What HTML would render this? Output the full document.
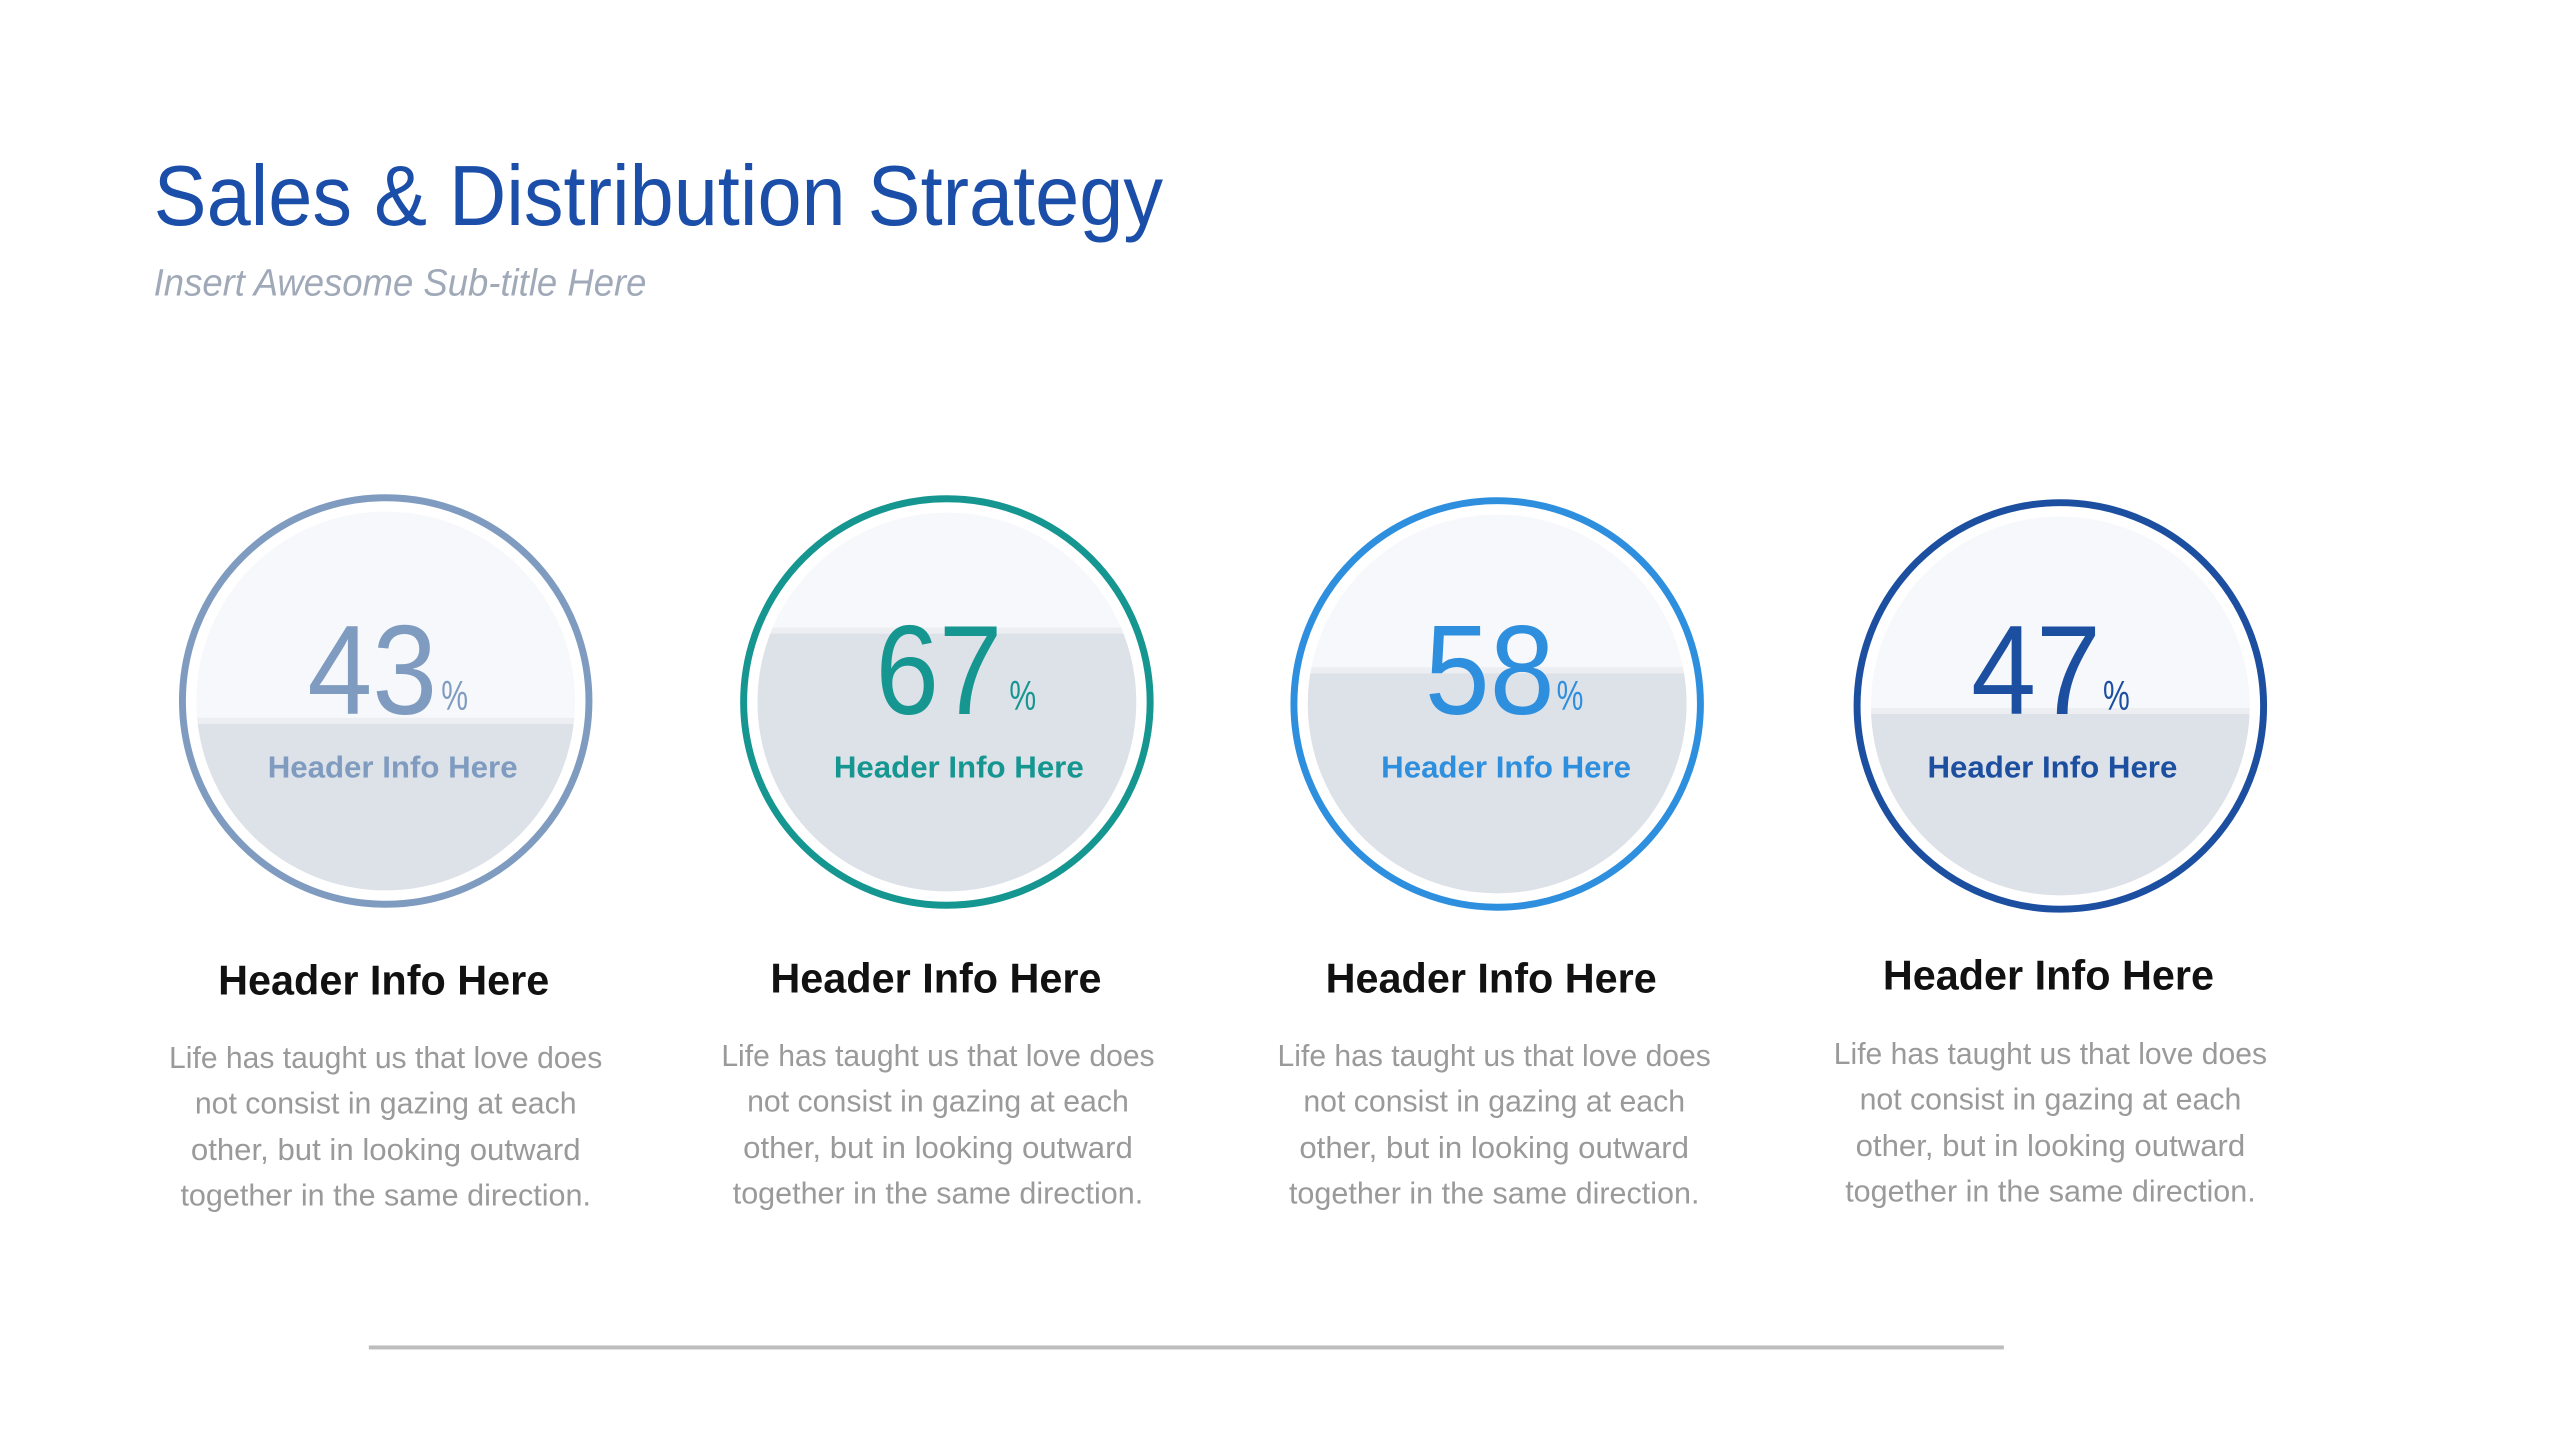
<!DOCTYPE html>
<html><head><meta charset="utf-8"><style>html,body{margin:0;padding:0;background:#fff}svg{display:block}</style></head>
<body>
<svg width="2560" height="1440" viewBox="0 0 2560 1440" xmlns="http://www.w3.org/2000/svg" font-family="'Liberation Sans', sans-serif">
<defs>
<clipPath id="c1"><circle cx="389" cy="707" r="191"/></clipPath>
<clipPath id="c2"><circle cx="955" cy="708" r="191"/></clipPath>
<clipPath id="c3"><circle cx="1510" cy="710" r="191"/></clipPath>
<clipPath id="c4"><circle cx="2078" cy="712" r="191"/></clipPath>
</defs>
<g transform="scale(0.9915)">
<text x="155" y="227" font-size="86" fill="#1a4ea8" textLength="1018" lengthAdjust="spacingAndGlyphs">Sales &amp; Distribution Strategy</text>
<text x="155" y="298" font-size="38" font-style="italic" fill="#a0a9b8" textLength="497" lengthAdjust="spacingAndGlyphs">Insert Awesome Sub-title Here</text>

<g clip-path="url(#c1)"><rect x="190" y="510" width="400" height="400" fill="#f7f8fb"/><rect x="190" y="730" width="400" height="200" fill="#dde1e8"/><rect x="190" y="724" width="400" height="6" fill="#eceef2"/></g>
<circle cx="389" cy="707" r="205" fill="none" stroke="#7f9cc0" stroke-width="7"/>
<text x="310" y="720" font-size="128" fill="#7f9cc0" textLength="131" lengthAdjust="spacingAndGlyphs">43</text>
<text x="445" y="716" font-size="42" fill="#7f9cc0" textLength="27" lengthAdjust="spacingAndGlyphs">%</text>
<text x="396" y="784" font-size="31" font-weight="bold" fill="#7f9cc0" text-anchor="middle" textLength="252" lengthAdjust="spacingAndGlyphs">Header Info Here</text>

<g clip-path="url(#c2)"><rect x="750" y="510" width="420" height="400" fill="#f7f8fb"/><rect x="750" y="639" width="420" height="300" fill="#dde1e8"/><rect x="750" y="633" width="420" height="6" fill="#eceef2"/></g>
<circle cx="955" cy="708" r="205" fill="none" stroke="#169690" stroke-width="7"/>
<text x="883" y="720" font-size="128" fill="#169690" textLength="128" lengthAdjust="spacingAndGlyphs">67</text>
<text x="1018" y="716" font-size="42" fill="#169690" textLength="27" lengthAdjust="spacingAndGlyphs">%</text>
<text x="967" y="784" font-size="31" font-weight="bold" fill="#169690" text-anchor="middle" textLength="252" lengthAdjust="spacingAndGlyphs">Header Info Here</text>

<g clip-path="url(#c3)"><rect x="1300" y="510" width="420" height="400" fill="#f7f8fb"/><rect x="1300" y="679" width="420" height="300" fill="#dde1e8"/><rect x="1300" y="673" width="420" height="6" fill="#eceef2"/></g>
<circle cx="1510" cy="710" r="205" fill="none" stroke="#2f8fdf" stroke-width="7"/>
<text x="1437" y="720" font-size="128" fill="#2f8fdf" textLength="131" lengthAdjust="spacingAndGlyphs">58</text>
<text x="1570" y="716" font-size="42" fill="#2f8fdf" textLength="27" lengthAdjust="spacingAndGlyphs">%</text>
<text x="1519" y="784" font-size="31" font-weight="bold" fill="#2f8fdf" text-anchor="middle" textLength="252" lengthAdjust="spacingAndGlyphs">Header Info Here</text>

<g clip-path="url(#c4)"><rect x="1870" y="510" width="420" height="400" fill="#f7f8fb"/><rect x="1870" y="720" width="420" height="300" fill="#dde1e8"/><rect x="1870" y="714" width="420" height="6" fill="#eceef2"/></g>
<circle cx="2078" cy="712" r="205" fill="none" stroke="#1c4fa0" stroke-width="7"/>
<text x="1988" y="720" font-size="128" fill="#1c4fa0" textLength="131" lengthAdjust="spacingAndGlyphs">47</text>
<text x="2121" y="716" font-size="42" fill="#1c4fa0" textLength="27" lengthAdjust="spacingAndGlyphs">%</text>
<text x="2070" y="784" font-size="31" font-weight="bold" fill="#1c4fa0" text-anchor="middle" textLength="252" lengthAdjust="spacingAndGlyphs">Header Info Here</text>

<g font-size="42" font-weight="bold" fill="#111" text-anchor="middle">
<text x="387" y="1003" textLength="334" lengthAdjust="spacingAndGlyphs">Header Info Here</text>
<text x="944" y="1001" textLength="334" lengthAdjust="spacingAndGlyphs">Header Info Here</text>
<text x="1504" y="1001" textLength="334" lengthAdjust="spacingAndGlyphs">Header Info Here</text>
<text x="2066" y="998" textLength="334" lengthAdjust="spacingAndGlyphs">Header Info Here</text>
</g>

<g font-size="31" fill="#9a9a9a" text-anchor="middle">
<g transform="translate(389,0)">
<text x="0" y="1077" textLength="437" lengthAdjust="spacingAndGlyphs">Life has taught us that love does</text>
<text x="0" y="1123" textLength="385" lengthAdjust="spacingAndGlyphs">not consist in gazing at each</text>
<text x="0" y="1170" textLength="393" lengthAdjust="spacingAndGlyphs">other, but in looking outward</text>
<text x="0" y="1216" textLength="414" lengthAdjust="spacingAndGlyphs">together in the same direction.</text>
</g>
<g transform="translate(946,-2)">
<text x="0" y="1077" textLength="437" lengthAdjust="spacingAndGlyphs">Life has taught us that love does</text>
<text x="0" y="1123" textLength="385" lengthAdjust="spacingAndGlyphs">not consist in gazing at each</text>
<text x="0" y="1170" textLength="393" lengthAdjust="spacingAndGlyphs">other, but in looking outward</text>
<text x="0" y="1216" textLength="414" lengthAdjust="spacingAndGlyphs">together in the same direction.</text>
</g>
<g transform="translate(1507,-2)">
<text x="0" y="1077" textLength="437" lengthAdjust="spacingAndGlyphs">Life has taught us that love does</text>
<text x="0" y="1123" textLength="385" lengthAdjust="spacingAndGlyphs">not consist in gazing at each</text>
<text x="0" y="1170" textLength="393" lengthAdjust="spacingAndGlyphs">other, but in looking outward</text>
<text x="0" y="1216" textLength="414" lengthAdjust="spacingAndGlyphs">together in the same direction.</text>
</g>
<g transform="translate(2068,-4)">
<text x="0" y="1077" textLength="437" lengthAdjust="spacingAndGlyphs">Life has taught us that love does</text>
<text x="0" y="1123" textLength="385" lengthAdjust="spacingAndGlyphs">not consist in gazing at each</text>
<text x="0" y="1170" textLength="393" lengthAdjust="spacingAndGlyphs">other, but in looking outward</text>
<text x="0" y="1216" textLength="414" lengthAdjust="spacingAndGlyphs">together in the same direction.</text>
</g>
</g>

<rect x="372" y="1357" width="1649" height="4" fill="#bdbdbd"/>
</g>
</svg>
</body></html>
